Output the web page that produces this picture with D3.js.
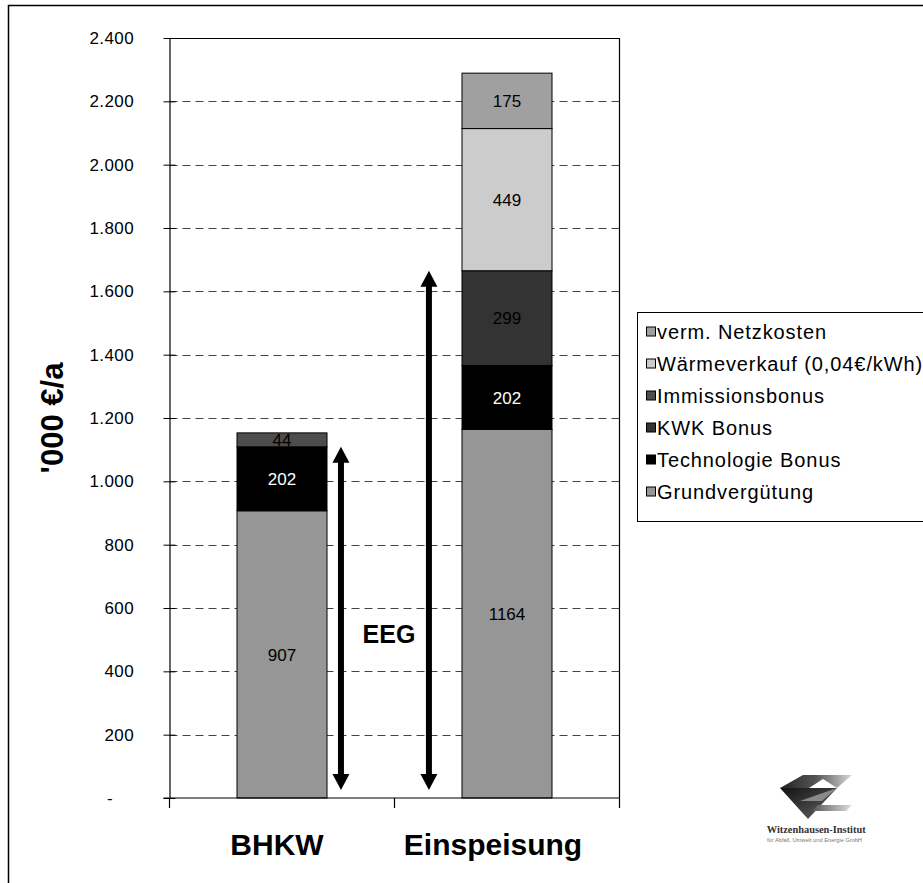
<!DOCTYPE html>
<html>
<head>
<meta charset="utf-8">
<script src="https://cdn.jsdelivr.net/npm/d3@7"></script>
<style>
  html, body { margin: 0; padding: 0; background: #fff; }
  svg { display: block; font-family: "Liberation Sans", Arial, sans-serif; }
</style>
</head>
<body>
<svg id="chart" width="923" height="883"></svg>
<script>
// ---- data ----
const categories = ["BHKW", "Einspeisung"];
const seriesNames = [
  "Grundvergütung",
  "Technologie Bonus",
  "KWK Bonus",
  "Immissionsbonus",
  "Wärmeverkauf (0,04€/kWh)",
  "verm. Netzkosten"
];
const grundverguetung  = [907, 1164];
const technologieBonus = [202, 202];
const kwkBonus         = [0, 299];
const immissionsbonus  = [44, 0];
const waermeverkauf    = [0, 449];
const netzkosten       = [0, 175];
const seriesValues = [grundverguetung, technologieBonus, kwkBonus, immissionsbonus, waermeverkauf, netzkosten];
const seriesColors = ["#969696", "#000000", "#333333", "#4d4d4d", "#cccccc", "#a0a0a0"];
const labelColors  = ["#000", "#fff", "#000", "#000", "#000", "#000"];
const yTicks = [0, 200, 400, 600, 800, 1000, 1200, 1400, 1600, 1800, 2000, 2200, 2400];
// EEG share: Grundvergütung + Technologie Bonus + KWK Bonus
const eegSeries = ["Grundvergütung", "Technologie Bonus", "KWK Bonus"];
const arrowFloor = 25;
const yTitle = "'000 €/a";
const eegLabel = "EEG";

// ---- layout ----
const svg = d3.select("#chart");
const plot = { left: 169.5, right: 619.5, top: 38, bottom: 798 };

const x = d3.scaleBand().domain(categories).range([plot.left, plot.right]);
const y = d3.scaleLinear().domain([0, 2400]).range([plot.bottom, plot.top]);
const barW = x.bandwidth() * 0.4;
const fmt = d3.formatLocale({ decimal: ",", thousands: ".", grouping: [3], currency: ["", "€"] }).format(",");

svg.append("rect").attr("width", 923).attr("height", 883).attr("fill", "#fff");
// outer frame
svg.append("rect").attr("x", 8.5).attr("y", 5.5).attr("width", 1000).attr("height", 1000)
  .attr("fill", "none").attr("stroke", "#000").attr("stroke-width", 1.5);

// dashed gridlines
svg.append("g").selectAll("line")
  .data(yTicks.filter(d => d > 0 && d < 2400))
  .join("line")
  .attr("x1", plot.left).attr("x2", plot.right)
  .attr("y1", d => Math.round(y(d)) + 0.5).attr("y2", d => Math.round(y(d)) + 0.5)
  .attr("stroke", "#444").attr("stroke-width", 1).attr("stroke-dasharray", "8,5");

// plot frame top / right
svg.append("path")
  .attr("d", `M${plot.left},${plot.top + 0.5}H${plot.right}V${plot.bottom}`)
  .attr("fill", "none").attr("stroke", "#000").attr("stroke-width", 1.2);

// stacked bars
const stackData = categories.map((c, i) => {
  const row = { category: c };
  seriesNames.forEach((s, k) => row[s] = seriesValues[k][i]);
  return row;
});
const stacked = d3.stack().keys(seriesNames)(stackData);

const layers = svg.append("g").selectAll("g")
  .data(stacked).join("g")
  .attr("fill", (d, k) => seriesColors[k]);

layers.selectAll("rect")
  .data(d => d.filter(p => p[1] - p[0] > 0))
  .join("rect")
  .attr("x", p => x(p.data.category) + (x.bandwidth() - barW) / 2)
  .attr("width", barW)
  .attr("y", p => y(p[1]))
  .attr("height", p => y(p[0]) - y(p[1]))
  .attr("stroke", "#000").attr("stroke-width", 1);

// segment value labels
const labelG = svg.append("g").attr("font-size", 17).attr("text-anchor", "middle");
stacked.forEach((layer, k) => {
  labelG.selectAll(null)
    .data(layer.filter(p => p[1] - p[0] > 0))
    .join("text")
    .attr("x", p => x(p.data.category) + x.bandwidth() / 2)
    .attr("y", p => y((p[0] + p[1]) / 2))
    .attr("dy", "0.36em")
    .attr("fill", labelColors[k])
    .text(p => p[1] - p[0]);
});

// y axis
const yAxis = svg.append("g")
  .attr("transform", `translate(${plot.left},0)`)
  .call(d3.axisLeft(y).tickValues(yTicks).tickSizeInner(6).tickSizeOuter(0).tickPadding(29.5)
    .tickFormat(d => d === 0 ? "-" : fmt(d)));
yAxis.select(".domain").attr("stroke", "#000").attr("stroke-width", 1.2);
yAxis.selectAll(".tick line").attr("x1", 6).attr("stroke", "#000");
yAxis.selectAll(".tick text")
  .attr("font-size", 17).attr("font-family", "'Liberation Sans', Arial, sans-serif")
  .attr("letter-spacing", 0.4).attr("fill", "#000");
yAxis.selectAll(".tick").filter(d => d === 0).select("text").attr("x", -56.5);

// x axis baseline and category boundary ticks
svg.append("line")
  .attr("x1", plot.left - 6).attr("x2", plot.right)
  .attr("y1", plot.bottom).attr("y2", plot.bottom)
  .attr("stroke", "#000").attr("stroke-width", 1.2);
const bounds = categories.map(c => x(c)).concat([x.range()[1]]);
svg.append("g").selectAll("line").data(bounds).join("line")
  .attr("x1", d => d).attr("x2", d => d)
  .attr("y1", plot.bottom).attr("y2", plot.bottom + 10)
  .attr("stroke", "#000").attr("stroke-width", 1.2);

const catShift = { "BHKW": -5, "Einspeisung": -14 };
svg.append("g").selectAll("text").data(categories).join("text")
  .attr("x", c => x(c) + x.bandwidth() / 2 + catShift[c])
  .attr("y", 855)
  .attr("text-anchor", "middle")
  .attr("font-size", 30).attr("font-weight", "bold")
  .text(c => c);

// y axis title
svg.append("text")
  .attr("transform", `translate(63,${(plot.top + plot.bottom) / 2}) rotate(-90)`)
  .attr("text-anchor", "middle")
  .attr("font-size", 31).attr("font-weight", "bold")
  .text(yTitle);

// EEG arrows
const arrowPos = { "BHKW": 0.762, "Einspeisung": 0.153 };
const eegTotals = categories.map((c, i) =>
  d3.sum(eegSeries.map(s => seriesValues[seriesNames.indexOf(s)][i])));
const arrowG = svg.append("g").attr("fill", "#000");
categories.forEach((c, i) => {
  const ax = x(c) + x.bandwidth() * arrowPos[c];
  const y0 = y(arrowFloor), y1 = y(eegTotals[i]);
  const headH = 16, headW = 17, shaft = 6;
  arrowG.append("rect")
    .attr("x", ax - shaft / 2).attr("width", shaft)
    .attr("y", y1 + headH - 1).attr("height", (y0 - y1) - 2 * headH + 2);
  arrowG.append("path")
    .attr("d", `M${ax},${y1}L${ax + headW / 2},${y1 + headH}L${ax - headW / 2},${y1 + headH}Z`);
  arrowG.append("path")
    .attr("d", `M${ax},${y0}L${ax + headW / 2},${y0 - headH}L${ax - headW / 2},${y0 - headH}Z`);
});
svg.append("text")
  .attr("x", x(categories[1]) - 5.5)
  .attr("y", y(490))
  .attr("text-anchor", "middle")
  .attr("font-size", 25).attr("font-weight", "bold")
  .text(eegLabel);

// legend (reverse stacking order)
const legend = svg.append("g");
legend.append("rect")
  .attr("x", 637.5).attr("y", 312.5).attr("width", 320).attr("height", 209)
  .attr("fill", "#fff").attr("stroke", "#000").attr("stroke-width", 1);
const legendItems = seriesNames.map((s, k) => ({ name: s, color: seriesColors[k] })).reverse();
const li = legend.selectAll("g.item").data(legendItems).join("g")
  .attr("class", "item")
  .attr("transform", (d, i) => `translate(646,${331.5 + i * 32})`);
li.append("rect")
  .attr("x", 0.5).attr("y", -4.5).attr("width", 9).attr("height", 9)
  .attr("fill", d => d.color).attr("stroke", "#000").attr("stroke-width", 1);
li.append("text")
  .attr("x", 11).attr("dy", "0.36em")
  .attr("font-size", 20).attr("letter-spacing", 0.9)
  .text(d => d.name);

// institute logo
const defs = svg.append("defs");
function grad(id, stops, x2 = 1, y2 = 0) {
  const g = defs.append("linearGradient").attr("id", id)
    .attr("x1", 0).attr("y1", 0).attr("x2", x2).attr("y2", y2);
  stops.forEach(([o, c]) => g.append("stop").attr("offset", o).attr("stop-color", c));
}
grad("lgTop", [[0, "#222"], [0.5, "#555"], [1, "#d8d8d8"]]);
grad("lgTri", [[0, "#111"], [1, "#666"]], 1, 1);
grad("lgBot", [[0, "#555"], [1, "#e0e0e0"]]);
const logo = svg.append("g").attr("transform", "translate(740,760)");
logo.append("path").attr("d", "M63,15L112,15L97,28L40,28Z").attr("fill", "url(#lgTop)");
logo.append("path").attr("d", "M40,28L97,28L68,59Z").attr("fill", "url(#lgTri)");
logo.append("path").attr("d", "M97,28L82,41L60,41Z").attr("fill", "#8a8a8a");
logo.append("path").attr("d", "M69,28L83,19L97,28Z").attr("fill", "#fff");
logo.append("path").attr("d", "M78,45L112,45L106,51L72,51Z").attr("fill", "url(#lgBot)");
logo.append("text").attr("x", 26.7).attr("y", 73)
  .attr("font-family", "'Liberation Serif', 'DejaVu Serif', serif")
  .attr("font-weight", "bold").attr("font-size", 10.5).attr("fill", "#333")
  .attr("textLength", 99).attr("lengthAdjust", "spacingAndGlyphs")
  .text("Witzenhausen-Institut");
logo.append("text").attr("x", 27).attr("y", 82)
  .attr("font-size", 5.5).attr("fill", "#777")
  .attr("textLength", 95).attr("lengthAdjust", "spacingAndGlyphs")
  .text("für Abfall, Umwelt und Energie GmbH");
</script>
</body>
</html>
